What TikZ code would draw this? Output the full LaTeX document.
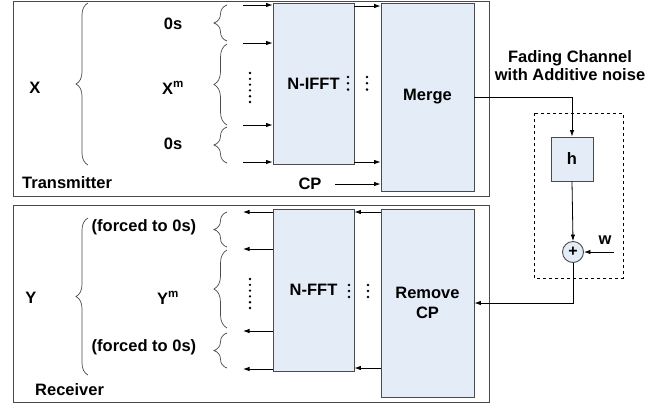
\documentclass[tikz,border=0pt]{standalone}
\usepackage{fontspec}
\setmainfont{Liberation Sans}
\usetikzlibrary{arrows.meta,decorations.pathreplacing,calc}
\definecolor{blkfill}{HTML}{E4ECF7}
\definecolor{blkdraw}{HTML}{4A4A4A}
\tikzset{
  blk/.style={draw=blkdraw, fill=blkfill, line width=0.9pt, inner sep=0pt, font=\fontsize{16.5}{19.5}\selectfont\bfseries, align=center},
  frame/.style={draw=blkdraw, line width=1pt, inner sep=0pt},
  lbl/.style={font=\fontsize{16.5}{19.5}\selectfont\bfseries, inner sep=0pt},
  arr/.style={-{Latex[length=6.5pt,width=4.5pt]}, line width=0.8pt},
  brc/.style={decorate, decoration={brace, amplitude=#1}, draw=blkdraw, line width=0.7pt},
  brc/.default=13,
  dotc/.style={fill=black, draw=none}
}
\begin{document}
\begin{tikzpicture}[x=1pt,y=-1pt]
\useasboundingbox (0,0) rectangle (669,405);
% frames
\node[frame, minimum width=476pt, minimum height=195pt] (tx) at (251,98.5) {};
\node[frame, minimum width=476pt, minimum height=197pt] (rx) at (251,303.5) {};
\draw[dashed, line width=0.8pt] (534,113) rectangle (623,278);
% blocks
\node[blk, minimum width=81pt, minimum height=161pt] (ifft) at (313.5,83.5) {N-IFFT};
\node[blk, minimum width=93pt, minimum height=188pt] (merge) at (427.5,97) {Merge};
\node[blk, minimum width=81pt, minimum height=162pt] (fft) at (313.5,290) {N-FFT};
\node[blk, minimum width=93pt, minimum height=188pt] (rmcp) at (427.5,303) {Remove\\CP};
\node[blk, minimum width=42pt, minimum height=44pt] (h) at (572,159) {h};
\node[blk, circle, minimum size=21pt, font=\fontsize{16}{18}\selectfont\bfseries] (plus) at (573,252) {+};
% labels
\node[lbl] (xl) at (35,88) {X};
\node[lbl] (z1) at (173,24) {0s};
\node[lbl] (xm) at (173,88) {X\textsuperscript{m}};
\node[lbl] (z2) at (173,144) {0s};
\node[lbl, anchor=west] (txl) at (22,183) {Transmitter};
\node[lbl] (cpl) at (310,184) {CP};
\node[lbl] (yl) at (31,298) {Y};
\node[lbl] (f1) at (144,227) {(forced to 0s)};
\node[lbl] (ym) at (168,298) {Y\textsuperscript{m}};
\node[lbl] (f2) at (144,347) {(forced to 0s)};
\node[lbl, anchor=west] (rxl) at (35,390) {Receiver};
\node[lbl, align=center, font=\fontsize{16.5}{18}\selectfont\bfseries] (fad) at (570,66) {Fading Channel\\with Additive noise};
\node[lbl] (wl) at (605,240) {w};
% braces TX
\draw[brc=12] (88,165) -- (88,3);
\draw[brc] (227,41) -- (227,5);
\draw[brc] (227,125) -- (227,44);
\draw[brc] (227,163) -- (227,127);
% braces RX
\draw[brc=12] (88,375) -- (88,218);
\draw[brc] (227,247) -- (227,212);
\draw[brc] (227,328) -- (227,250);
\draw[brc] (227,368) -- (227,333);
% TX arrows
\foreach \yy/\nm in {5/a,43/b,125/c,162/d}{
  \coordinate (in\nm) at (243,\yy);
  \draw[arr] (in\nm) -- (ifft.west |- in\nm);
}
\draw[arr] (ifft.east |- 0,6) -- (merge.west |- 0,6);
\draw[arr] (ifft.east |- 0,162) -- (merge.west |- 0,162);
\coordinate (cps) at (335,184);
\draw[arr] (cps) -- (merge.west |- cps);
% RX arrows
\foreach \yy/\nm in {212/a,249/b,331/c,369/d}{
  \coordinate (out\nm) at (243,\yy);
  \draw[arr] (fft.west |- out\nm) -- (out\nm);
}
\draw[arr] (rmcp.west |- 0,212) -- (fft.east |- 0,212);
\draw[arr] (rmcp.west |- 0,368) -- (fft.east |- 0,368);
% channel
\draw[arr] (merge.east) -| (h.north);
\draw[arr] (h.south) -- (plus.north);
\coordinate (wst) at (614,252);
\draw[arr] (wst) -- (plus.east);
\coordinate (bend) at (573,303);
\draw[arr] (plus.south) -- (bend) -- (rmcp.east |- bend);
% dots
\foreach \k in {0,...,5}{
  \fill[dotc] (250,73+\k*5.8) circle (1.3pt);
  \fill[dotc] (250,279+\k*5.8) circle (1.3pt);
}
\foreach \k in {0,1,2}{
  \fill[dotc] (348,77+\k*6.3) circle (1.4pt);
  \fill[dotc] (367,77+\k*6.3) circle (1.4pt);
  \fill[dotc] (349,285+\k*6) circle (1.4pt);
  \fill[dotc] (368,285+\k*6) circle (1.4pt);
}
\end{tikzpicture}
\end{document}
